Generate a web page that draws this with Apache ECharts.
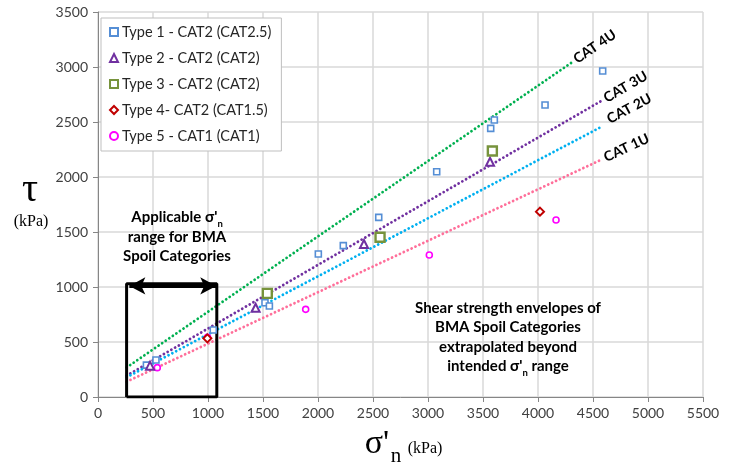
<!DOCTYPE html>
<html>
<head>
<meta charset="utf-8">
<script src="https://cdn.jsdelivr.net/npm/echarts@6/dist/echarts.min.js"></script>
<style>
  html, body { margin: 0; background: #fff; }
  #chart { width: 736px; height: 466px; }
</style>
</head>
<body>
<div id="chart"></div>
<script>
// test results, [sigma'n kPa, tau kPa]
const type1 = [[440, 290], [527, 336], [1048, 609], [1518, 857], [1558, 827], [2003, 1300], [2230, 1376],
  [2552, 1633], [3079, 2048], [3570, 2442], [3603, 2518], [4064, 2655], [4588, 2964]];
const type2 = [[473, 285], [1433, 812], [2418, 1391], [3564, 2139]];
const type3 = [[1539, 942], [2564, 1452], [3585, 2236]];
const type4 = [[994, 533], [4018, 1685]];
const type5 = [[539, 267], [996, 542], [1888, 797], [3012, 1291], [4164, 1609]];

// strength envelopes (straight lines, end points)
const cat4u = [[260, 268], [4320, 3050]];
const cat3u = [[260, 194], [4590, 2700]];
const cat2u = [[260, 179], [4560, 2448]];
const cat1u = [[260, 139], [4590, 2164]];

// applicable range box
const boxX = [260, 1080];
const boxTop = 1030;
const arrowX = [285, 1075];
const arrowY = 1010;

const legendNames = ['Type 1 - CAT2 (CAT2.5)', 'Type 2 - CAT2 (CAT2)', 'Type 3 - CAT2 (CAT2)',
  'Type 4- CAT2 (CAT1.5)', 'Type 5 - CAT1 (CAT1)'];

const FONT = 'Lato';

const chart = echarts.init(document.getElementById('chart'));

function envelope(data, color) {
  return {
    type: 'line',
    data: data,
    symbol: 'none',
    silent: true,
    z: 1,
    lineStyle: { color: color, width: 2.8, type: [0.01, 4.3], cap: 'round' }
  };
}

function pts(name, data, symbol, size, color, bw) {
  return {
    type: 'scatter',
    name: name,
    data: data,
    symbol: symbol,
    symbolSize: size,
    z: 4,
    itemStyle: { color: '#fff', borderColor: color, borderWidth: bw, opacity: 1 }
  };
}

const boxData = [[boxX[0], 0], [boxX[0], boxTop], [boxX[1], boxTop], [boxX[1], 0], [boxX[0], 0]];
const plain = v => String(v);

chart.setOption({
  animation: false,
  backgroundColor: '#fff',
  textStyle: { fontFamily: FONT },
  grid: { left: 98, right: 33, top: 12, bottom: 69 },
  xAxis: {
    type: 'value', min: 0, max: 5500, interval: 500,
    axisLine: { lineStyle: { color: '#868686' } },
    axisTick: { show: true, length: 5, lineStyle: { color: '#868686' } },
    axisLabel: { color: '#404040', fontSize: 14, margin: 9, fontFamily: FONT, formatter: plain },
    splitLine: { lineStyle: { color: '#D9D9D9', width: 1.5 } }
  },
  yAxis: {
    type: 'value', min: 0, max: 3500, interval: 500,
    axisLine: { show: true, lineStyle: { color: '#868686' } },
    axisTick: { show: true, length: 5, lineStyle: { color: '#868686' } },
    axisLabel: { color: '#404040', fontSize: 14, margin: 10, fontFamily: FONT, formatter: plain },
    splitLine: { lineStyle: { color: '#D9D9D9', width: 1.5 } }
  },
  legend: {
    data: legendNames,
    orient: 'vertical',
    left: 101, top: 18,
    padding: [6, 10, 7, 8],
    itemGap: 10,
    itemWidth: 8, itemHeight: 8,
    backgroundColor: '#fff',
    borderColor: '#BFBFBF', borderWidth: 1,
    textStyle: { fontSize: 14.5, lineHeight: 16, color: '#262626', fontFamily: FONT, padding: [0, 0, 0, -1] }
  },
  series: [
    envelope(cat4u, '#00B050'),
    envelope(cat3u, '#7030A0'),
    envelope(cat2u, '#00B0F0'),
    envelope(cat1u, '#FF6F9A'),
    {
      type: 'line', data: boxData, symbol: 'none', silent: true, z: 3,
      lineStyle: { color: '#000', width: 3 },
      markLine: {
        silent: true, symbol: ['arrow', 'arrow'], symbolSize: [13, 16],
        label: { show: false },
        lineStyle: { color: '#000', width: 3, type: 'solid' },
        data: [[{ coord: [arrowX[0], arrowY] }, { coord: [arrowX[1], arrowY] }]]
      }
    },
    pts(legendNames[4], type5, 'circle', 6, '#FF00FF', 1.6),
    pts(legendNames[0], type1, 'rect', 6, '#558ED5', 1.6),
    pts(legendNames[1], type2, 'triangle', 8, '#7030A0', 2),
    pts(legendNames[2], type3, 'rect', 9, '#77933C', 2.4),
    pts(legendNames[3], type4, 'diamond', 8, '#C00000', 2)
  ]
});

// envelope labels along the line ends
const labelDefs = [[cat4u, 'CAT 4U', 2, 0], [cat3u, 'CAT 3U', 2, 0], [cat2u, 'CAT 2U', 11, -3], [cat1u, 'CAT 1U', 2, 0]];
const graphics = labelDefs.map(function (d) {
  const p1 = chart.convertToPixel('grid', d[0][0]);
  const p2 = chart.convertToPixel('grid', d[0][1]);
  const ang = Math.atan2(p1[1] - p2[1], p2[0] - p1[0]);
  return {
    type: 'text',
    x: p2[0] + Math.cos(ang) * d[2] + Math.sin(ang) * d[3],
    y: p2[1] - Math.sin(ang) * d[2] + Math.cos(ang) * d[3],
    rotation: ang,
    style: { text: d[1], fill: '#000', font: 'bold 14px ' + FONT, textAlign: 'left', textVerticalAlign: 'middle' }
  };
});

const rich = {
  b: { fontFamily: FONT, fontWeight: 'bold', fontSize: 15, lineHeight: 19.5, color: '#000' },
  s: { fontFamily: FONT, fontWeight: 'bold', fontSize: 9.5, lineHeight: 19.5, color: '#000', verticalAlign: 'bottom', padding: [0, 0, -2, 0] }
};

graphics.push(
  {
    type: 'text', x: 177, y: 237,
    style: {
      text: "{b|Applicable σ'}{s|n}\n{b|range for BMA}\n{b|Spoil Categories}",
      rich: rich, textAlign: 'center', textVerticalAlign: 'middle'
    }
  },
  {
    type: 'text', x: 508, y: 337,
    style: {
      text: "{b|Shear strength envelopes of}\n{b|BMA Spoil Categories}\n{b|extrapolated beyond}\n{b|intended σ'}{s|n}{b| range}",
      rich: rich, textAlign: 'center', textVerticalAlign: 'middle'
    }
  },
  // axis titles
  { type: 'text', x: 30, y: 190, style: { text: 'τ', font: '40px "Liberation Serif"', fill: '#000', textAlign: 'center', textVerticalAlign: 'middle' } },
  { type: 'text', x: 31, y: 222, style: { text: '(kPa)', font: '16px "Liberation Serif"', fill: '#000', textAlign: 'center', textVerticalAlign: 'middle' } },
  { type: 'text', x: 377, y: 444, style: { text: "σ'", font: '34px "Liberation Serif"', fill: '#000', textAlign: 'center', textVerticalAlign: 'middle' } },
  { type: 'text', x: 396, y: 456, style: { text: 'n', font: '21px "Liberation Serif"', fill: '#000', textAlign: 'center', textVerticalAlign: 'middle' } },
  { type: 'text', x: 425, y: 449, style: { text: '(kPa)', font: '16px "Liberation Serif"', fill: '#000', textAlign: 'center', textVerticalAlign: 'middle' } }
);

chart.setOption({ graphic: graphics });
</script>
</body>
</html>
